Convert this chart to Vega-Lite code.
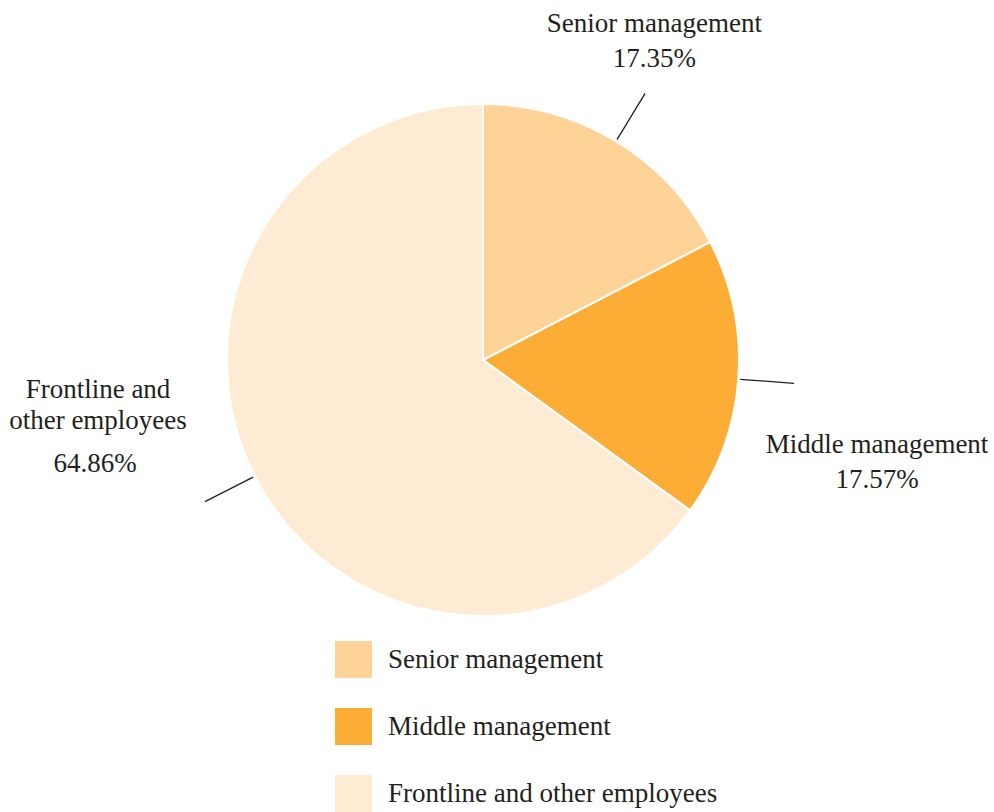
{
  "$schema": "https://vega.github.io/schema/vega-lite/v6.json",
  "width": 966,
  "height": 720,
  "autosize": {"type": "none"},
  "padding": {"left": 0, "top": 0, "right": 28, "bottom": 92},
  "background": "white",
  "config": {"view": {"stroke": null}, "font": "Liberation Serif"},
  "data": {
    "values": [
      {"category": "Senior management", "share": 17.35, "label": "Senior management"},
      {"category": "Middle management", "share": 17.57, "label": "Middle management"},
      {"category": "Frontline and other employees", "share": 64.86, "label": "Frontline and\nother employees"}
    ]
  },
  "transform": [
    {"window": [{"op": "row_number", "as": "idx"}]},
    {"window": [{"op": "sum", "field": "share", "as": "cum"}], "sort": [{"field": "idx"}], "frame": [null, 0]},
    {"calculate": "datum.cum - datum.share / 2", "as": "mid"},
    {"calculate": "format(datum.share, '.2f') + '%'", "as": "pct"},
    {"calculate": "datum.label + '\\n' + datum.pct", "as": "full"}
  ],
  "layer": [
    {
      "mark": {"type": "arc", "radius": 256, "stroke": "white", "strokeWidth": 2},
      "encoding": {
        "theta": {"field": "share", "type": "quantitative", "stack": true},
        "order": {"field": "idx", "type": "quantitative"},
        "color": {
          "field": "category",
          "type": "nominal",
          "scale": {
            "domain": ["Senior management", "Middle management", "Frontline and other employees"],
            "range": ["#FDD398", "#FCAD36", "#FDEBD3"]
          },
          "legend": {
            "title": null,
            "orient": "none",
            "legendX": 335,
            "legendY": 641,
            "padding": 0,
            "symbolType": "square",
            "symbolSize": 1369,
            "symbolStrokeWidth": 0,
            "symbolOpacity": 1,
            "labelFont": "Liberation Serif",
            "labelFontSize": 27,
            "labelColor": "#231f20",
            "labelOffset": 16,
            "labelLimit": 600,
            "rowPadding": 30
          }
        }
      }
    },
    {
      "mark": {"type": "arc", "filled": false, "stroke": "#231f20", "strokeWidth": 1.3},
      "encoding": {
        "theta": {"field": "mid", "type": "quantitative", "stack": null},
        "theta2": {"field": "mid"},
        "radius": {"value": 312},
        "radius2": {"value": 258}
      }
    },
    {
      "transform": [{"filter": "datum.category === 'Senior management'"}],
      "mark": {"type": "text", "lineBreak": "\n", "lineHeight": 35, "fontSize": 27, "font": "Liberation Serif", "color": "#231f20", "align": "center", "baseline": "alphabetic", "dx": 10.4, "dy": -63.6},
      "encoding": {
        "theta": {"field": "mid", "type": "quantitative", "stack": null},
        "radius": {"value": 310},
        "text": {"field": "full", "type": "nominal"}
      }
    },
    {
      "transform": [{"filter": "datum.category === 'Middle management'"}],
      "mark": {"type": "text", "lineBreak": "\n", "lineHeight": 35, "fontSize": 27, "font": "Liberation Serif", "color": "#231f20", "align": "center", "baseline": "alphabetic", "dx": 84.9, "dy": 69.8},
      "encoding": {
        "theta": {"field": "mid", "type": "quantitative", "stack": null},
        "radius": {"value": 310},
        "text": {"field": "full", "type": "nominal"}
      }
    },
    {
      "transform": [{"filter": "datum.category === 'Frontline and other employees'"}],
      "mark": {"type": "text", "lineBreak": "\n", "lineHeight": 31, "fontSize": 27, "font": "Liberation Serif", "color": "#231f20", "align": "center", "baseline": "alphabetic", "dx": -108.8, "dy": -102.8},
      "encoding": {
        "theta": {"field": "mid", "type": "quantitative", "stack": null},
        "radius": {"value": 310},
        "text": {"field": "label", "type": "nominal"}
      }
    },
    {
      "transform": [{"filter": "datum.category === 'Frontline and other employees'"}],
      "mark": {"type": "text", "fontSize": 27, "font": "Liberation Serif", "color": "#231f20", "align": "center", "baseline": "alphabetic", "dx": -111.8, "dy": -28.8},
      "encoding": {
        "theta": {"field": "mid", "type": "quantitative", "stack": null},
        "radius": {"value": 310},
        "text": {"field": "pct", "type": "nominal"}
      }
    }
  ]
}
